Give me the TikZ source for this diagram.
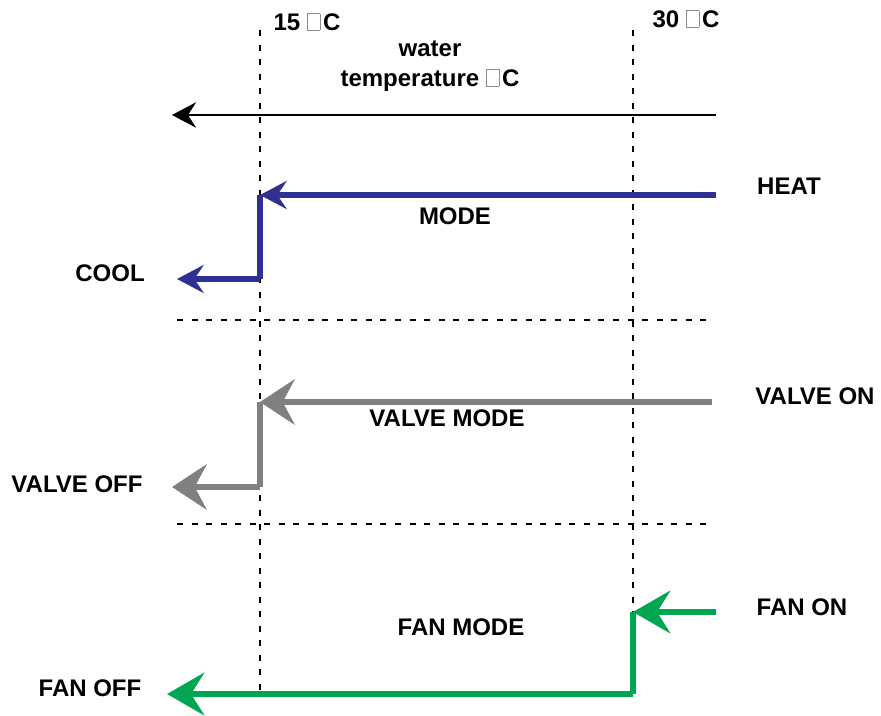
\documentclass[tikz,border=0pt]{standalone}
\usepackage{fontspec}
\setmainfont{Liberation Sans}
\usetikzlibrary{positioning, arrows.meta, calc}

\definecolor{modeblue}{HTML}{2E3192}
\definecolor{valvegray}{HTML}{808080}
\definecolor{fangreen}{HTML}{00A651}

% missing-glyph box, as printed in the source
\newcommand{\tofubox}{{\color{black!45}\setlength{\fboxsep}{0pt}\setlength{\fboxrule}{0.5pt}\fbox{\rule{0pt}{0.68em}\hspace{0.5em}}}\hspace{0.12em}}

\begin{document}
\begin{tikzpicture}
    [
        x=0.75pt, y=-0.75pt,
        txt/.style={font=\fontsize{18}{22}\selectfont\bfseries, inner sep=0pt, align=center},
        limit/.style={draw, dash pattern=on 4.5pt off 6.4pt, line width=1.6pt},
        axis/.style={draw, line width=2.2pt, -{Stealth[length=18pt, width=19pt, inset=6pt]}},
        modeline/.style={draw=modeblue, line width=4pt},
        modetip/.style={modeline, -{Stealth[length=20pt, width=21pt, inset=7pt, fill=modeblue]}},
        valveline/.style={draw=valvegray, line width=4.2pt},
        valvetip/.style={valveline, -{Stealth[length=26pt, width=34pt, inset=9pt, fill=valvegray]}},
        fanline/.style={draw=fangreen, line width=4.2pt},
        fantip/.style={fanline, -{Stealth[length=28pt, width=32pt, inset=10pt, fill=fangreen]}}
    ]
        \useasboundingbox (0,0) rectangle (881,715);
        % =========================================================================
        % COORDINATES
        % =========================================================================
        % --- limits ---
        \coordinate (t15top) at (260,30);
        \coordinate (t15bot) at (260,694);
        \coordinate (t30top) at (633,30);
        \coordinate (t30bot) at (633,612);
        \coordinate (sep1a) at (177,320);
        \coordinate (sep1b) at (712,320);
        \coordinate (sep2a) at (177,524);
        \coordinate (sep2b) at (712,524);
        % --- axis ---
        \coordinate (axisin) at (716,115);
        \coordinate (axisout) at (172,115);
        % --- mode ---
        \coordinate (heatin) at (716,195);
        \coordinate (modestep) at (260,195);
        \coordinate (coolbend) at (260,279);
        \coordinate (coolout) at (177,279);
        % --- valve ---
        \coordinate (valvein) at (712,402);
        \coordinate (valvestep) at (260,402);
        \coordinate (valvebend) at (260,487);
        \coordinate (valveout) at (172,487);
        % --- fan ---
        \coordinate (fanin) at (716,612);
        \coordinate (fanstep) at (633,612);
        \coordinate (fanbend) at (633,694);
        \coordinate (fanout) at (167,694);

        % =========================================================================
        % NODES
        % =========================================================================
        \node [txt] (t15) at (307,22) {15 \tofubox C};
        \node [txt] (t30) at (686,19) {30 \tofubox C};
        \node [txt] (axislabel) at (430,66) {water\\temperature \tofubox C};
        \node [txt] (heat) at (789,186) {HEAT};
        \node [txt] (mode) at (455,216) {MODE};
        \node [txt] (cool) at (110,273) {COOL};
        \node [txt] (valveon) at (815,396) {VALVE ON};
        \node [txt] (valvemode) at (447,418) {VALVE MODE};
        \node [txt] (valveoff) at (77,484) {VALVE OFF};
        \node [txt] (fanon) at (802,607) {FAN ON};
        \node [txt] (fanmode) at (461,627) {FAN MODE};
        \node [txt] (fanoff) at (90,688) {FAN OFF};

        % =========================================================================
        % PATHS
        % =========================================================================
        % --- DASHED ---
        \draw [limit] (t15top) -- (t15bot);
        \draw [limit] (t30top) -- (t30bot);
        \draw [limit] (sep1a) -- (sep1b);
        \draw [limit] (sep2a) -- (sep2b);
        % --- AXIS ---
        \draw [axis] (axisin) -- (axisout);
        % --- MODE ---
        \draw [modeline] (modestep) -- (coolbend);
        \draw [modetip] (heatin) -- (modestep);
        \draw [modetip] (coolbend) -- (coolout);
        % --- VALVE ---
        \draw [valveline] (valvestep) -- (valvebend);
        \draw [valvetip] (valvein) -- (valvestep);
        \draw [valvetip] (valvebend) -- (valveout);
        % --- FAN ---
        \draw [fanline] (fanstep) -- (fanbend);
        \draw [fantip] (fanin) -- (fanstep);
        \draw [fantip] (fanbend) -- (fanout);
\end{tikzpicture}
\end{document}
